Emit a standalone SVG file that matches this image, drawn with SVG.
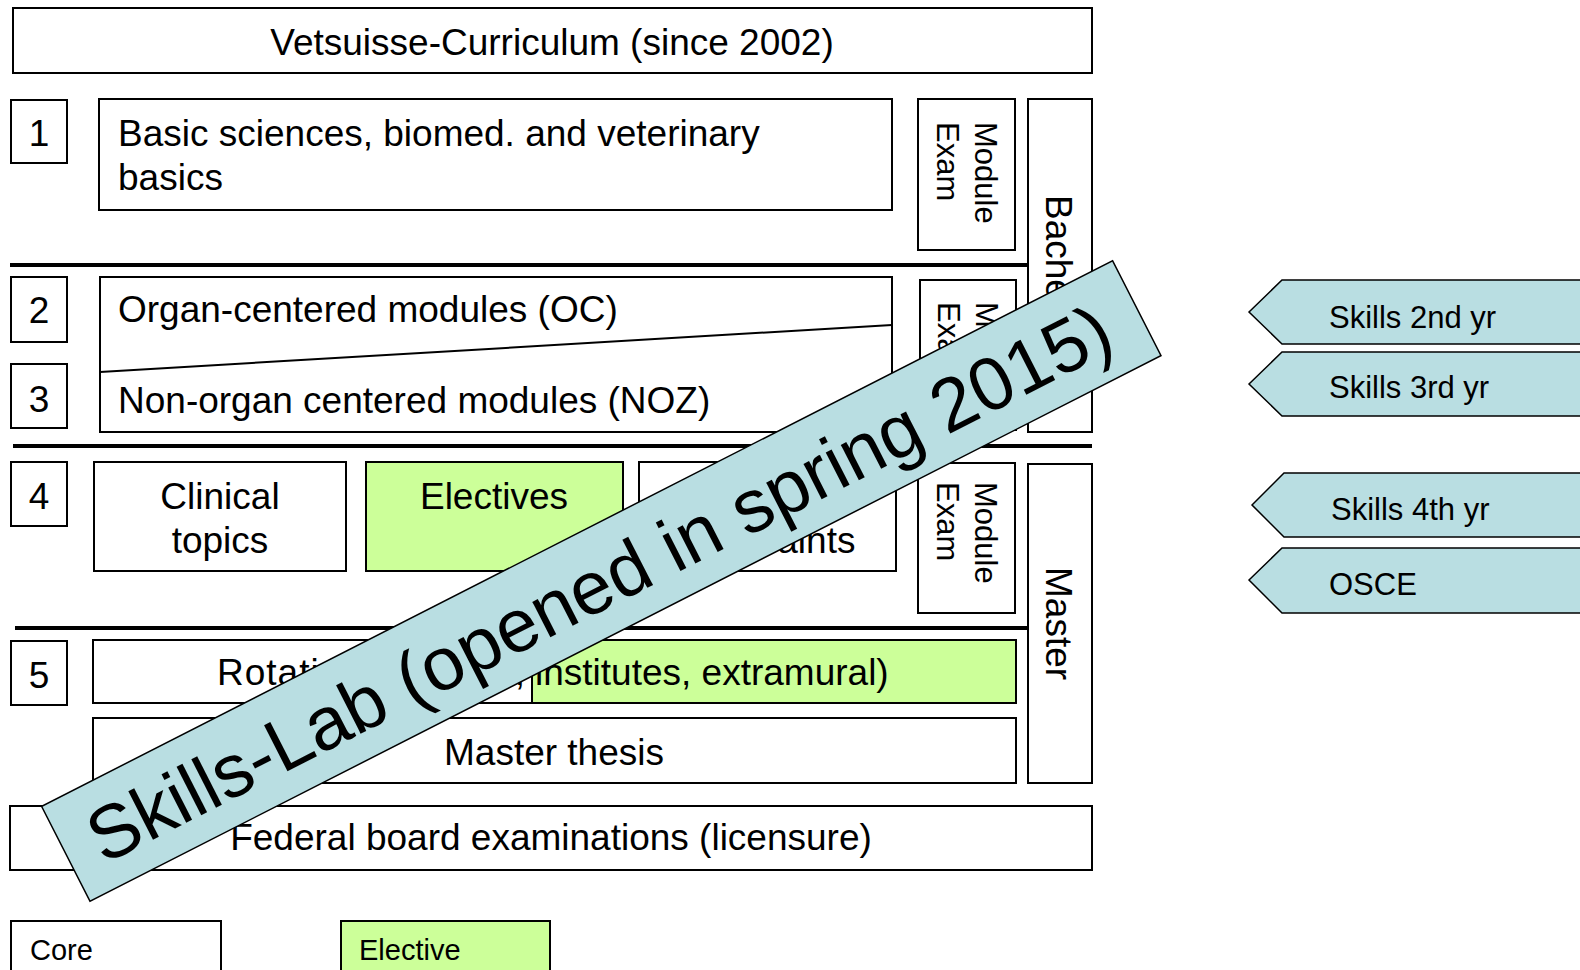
<svg xmlns="http://www.w3.org/2000/svg" width="1580" height="970" viewBox="0 0 1580 970">
  <style>
    .box { fill: #ffffff; stroke: #000000; stroke-width: 2; }
    .elec { fill: #CCFF99; stroke: #000000; stroke-width: 2; }
    .skill { fill: #B9DEE2; stroke: #000000; stroke-width: 1.5; }
    .sep { stroke: #000000; stroke-width: 4; fill: none; }
    .thin { stroke: #000000; stroke-width: 2; fill: none; }
    text { font-family: "Liberation Sans", Arial, sans-serif; fill: #000000; }
    .t37 { font-size: 37px; }
    .t31 { font-size: 31px; }
    .t29 { font-size: 29px; }
    .mid { text-anchor: middle; }
  </style>

  <rect width="1580" height="970" fill="#ffffff"/>

  <!-- Title -->
  <g id="title">
    <rect class="box" x="13" y="8" width="1079" height="65"/>
    <text class="t37 mid" x="552" y="55">Vetsuisse-Curriculum (since 2002)</text>
  </g>

  <!-- Year 1 -->
  <g id="year1">
    <rect class="box" x="11" y="100" width="56" height="63"/>
    <text class="t37 mid" x="39" y="146">1</text>
  </g>
  <g id="basic-sciences">
    <rect class="box" x="99" y="99" width="793" height="111"/>
    <text class="t37" x="118" y="146">Basic sciences, biomed. and veterinary</text>
    <text class="t37" x="118" y="190">basics</text>
  </g>
  <g id="module-exam-1">
    <rect class="box" x="918" y="99" width="97" height="151"/>
    <text class="t31" transform="translate(975,122) rotate(90)">Module</text>
    <text class="t31" transform="translate(937,122) rotate(90)">Exam</text>
  </g>
  <g id="bachelor">
    <rect class="box" x="1028" y="99" width="64" height="333"/>
    <text class="t37" transform="translate(1046,195) rotate(90)">Bachelor</text>
  </g>

  <!-- Years 2 and 3 -->
  <g id="year2">
    <rect class="box" x="11" y="277" width="56" height="65"/>
    <text class="t37 mid" x="39" y="323">2</text>
  </g>
  <g id="year3">
    <rect class="box" x="11" y="364" width="56" height="64"/>
    <text class="t37 mid" x="39" y="412">3</text>
  </g>
  <g id="organ-modules">
    <rect class="box" x="100" y="277" width="792" height="155"/>
    <line class="thin" x1="892" y1="325" x2="100" y2="372"/>
    <text class="t37" x="118" y="322">Organ-centered modules (OC)</text>
    <text class="t37" x="118" y="413">Non-organ centered modules (NOZ)</text>
  </g>
  <g id="module-exam-2">
    <rect class="box" x="920" y="280" width="96" height="150"/>
    <text class="t31" transform="translate(976,302) rotate(90)">Module</text>
    <text class="t31" transform="translate(938,302) rotate(90)">Exam</text>
  </g>

  <!-- Year 4 -->
  <g id="year4">
    <rect class="box" x="11" y="462" width="56" height="64"/>
    <text class="t37 mid" x="39" y="509">4</text>
  </g>
  <g id="clinical-topics">
    <rect class="box" x="94" y="462" width="252" height="109"/>
    <text class="t37 mid" x="220" y="509">Clinical</text>
    <text class="t37 mid" x="220" y="553">topics</text>
  </g>
  <g id="electives">
    <rect class="elec" x="366" y="462" width="257" height="109"/>
    <text class="t37 mid" x="494" y="509">Electives</text>
  </g>
  <g id="chief-complaints">
    <rect class="box" x="639" y="462" width="257" height="109"/>
    <text class="t37 mid" x="767" y="509">Chief</text>
    <text class="t37 mid" x="767" y="553">complaints</text>
  </g>
  <g id="module-exam-3">
    <rect class="box" x="918" y="463" width="97" height="150"/>
    <text class="t31" transform="translate(975,482) rotate(90)">Module</text>
    <text class="t31" transform="translate(937,482) rotate(90)">Exam</text>
  </g>
  <g id="master">
    <rect class="box" x="1028" y="464" width="64" height="319"/>
    <text class="t37" transform="translate(1046,567) rotate(90)">Master</text>
  </g>

  <!-- Year 5 -->
  <g id="year5">
    <rect class="box" x="11" y="641" width="56" height="64"/>
    <text class="t37 mid" x="39" y="688">5</text>
  </g>
  <g id="rotations">
    <rect class="box" x="93" y="640" width="923" height="63"/>
    <rect class="elec" x="532" y="640" width="484" height="63"/>
    <text class="t37" x="217" y="685"><tspan textLength="308" lengthAdjust="spacing">Rotations (clinics,</tspan><tspan x="535">institutes, extramural)</tspan></text>
  </g>
  <g id="master-thesis">
    <rect class="box" x="93" y="718" width="923" height="65"/>
    <text class="t37 mid" x="554" y="765">Master thesis</text>
  </g>
  <g id="federal-exam">
    <rect class="box" x="10" y="806" width="1082" height="64"/>
    <text class="t37 mid" x="551" y="850">Federal board examinations (licensure)</text>
  </g>

  <!-- Row separators -->
  <g id="connectors">
    <line class="sep" x1="10" y1="265" x2="1028" y2="265"/>
    <line class="sep" x1="13" y1="446" x2="1092" y2="446"/>
    <line class="sep" x1="15" y1="628" x2="1028" y2="628"/>
  </g>

  <!-- Legend -->
  <g id="legend-core">
    <rect class="box" x="11" y="921" width="210" height="60"/>
    <text class="t29" x="30" y="960">Core</text>
  </g>
  <g id="legend-elective">
    <rect class="elec" x="341" y="921" width="209" height="60"/>
    <text class="t29" x="359" y="960">Elective</text>
  </g>

  <!-- Skills training tags -->
  <g id="skills-2nd">
    <polygon class="skill" points="1249,312 1282,280 1592,280 1592,344 1282,344"/>
    <text class="t31" x="1329" y="328">Skills 2nd yr</text>
  </g>
  <g id="skills-3rd">
    <polygon class="skill" points="1249,384 1282,352 1592,352 1592,416 1282,416"/>
    <text class="t31" x="1329" y="398">Skills 3rd yr</text>
  </g>
  <g id="skills-4th">
    <polygon class="skill" points="1252,505 1284,473 1592,473 1592,537 1284,537"/>
    <text class="t31" x="1331" y="520">Skills 4th yr</text>
  </g>
  <g id="osce">
    <polygon class="skill" points="1249,580 1282,548 1592,548 1592,613 1282,613"/>
    <text class="t31" x="1329" y="595">OSCE</text>
  </g>

  <!-- Diagonal banner -->
  <g id="skills-lab" transform="translate(601.3,581) rotate(-27)">
    <rect class="skill" x="-601" y="-53.3" width="1202" height="106.6"/>
    <text class="mid" x="-3" y="27" font-size="75">Skills-Lab (opened in spring 2015)</text>
  </g>
</svg>
